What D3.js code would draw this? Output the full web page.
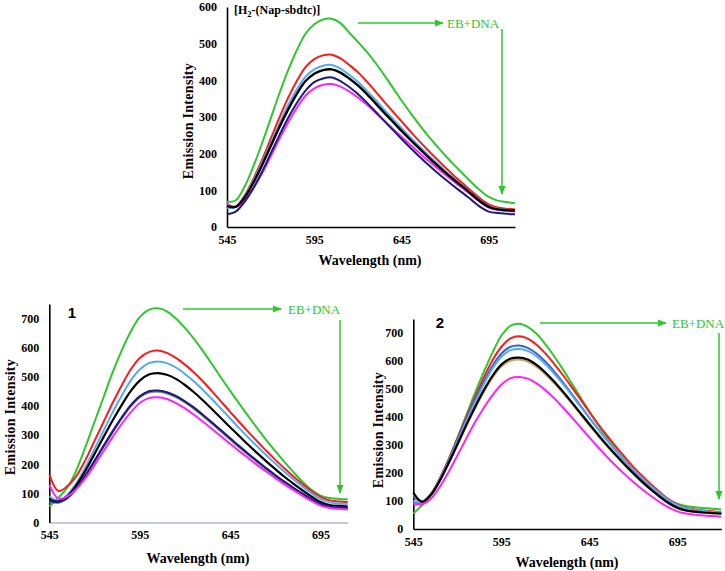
<!DOCTYPE html>
<html><head><meta charset="utf-8">
<script src="https://cdn.jsdelivr.net/npm/d3@7"></script>
<style>body{margin:0;background:#fff}svg{display:block}</style>
</head><body>
<svg id="c" width="725" height="571"></svg>
<script>
// ---------- data ----------
const wavelengthsA = [545,550,555,560,565,570,575,580,585,590,595,600,605,610,615,620,625,630,635,640,645,650,655,660,665,670,675,680,685,690,695,700,705,710];
const wavelengths1 = wavelengthsA;
const wavelengths2 = [545,550,555,560,565,570,575,580,585,590,595,600,605,610,615,620,625,630,635,640,645,650,655,660,665,670,675,680,685,690,695,700,705,710,715,720];
const xTicks = [545,595,645,695];
const yTicksA = [0,100,200,300,400,500,600];
const yTicksB = [0,100,200,300,400,500,600,700];

const topGreen   = [68,73,109,164,227,295,364,427,482,527,553,566,568,556,530,505,478,448,415,380,345,312,280,250,222,195,170,146,122,100,82,72,68,65];
const topRed     = [58,56,85,130,182,240,298,352,398,436,458,468,470,460,442,422,397,370,342,315,288,261,235,210,186,163,140,119,98,78,62,53,50,48];
const topLBlue   = [52,55,82,125,175,228,282,332,375,410,430,440,442,432,415,396,372,347,320,295,270,245,221,198,175,153,132,112,92,72,57,50,47,45];
const topBlack   = [57,55,80,120,168,220,272,320,363,398,418,428,430,421,405,386,363,338,312,287,262,238,215,192,170,149,129,110,90,70,55,48,46,45];
const topNavy    = [35,42,68,105,150,200,250,297,338,372,395,405,408,398,382,363,340,315,290,265,240,216,193,171,150,130,111,93,74,55,42,38,36,35];
const topMagenta = [63,55,72,105,145,192,240,285,325,358,378,388,390,383,370,353,334,312,290,268,246,224,203,182,162,143,124,106,87,68,53,47,44,42];

const p1Green   = [55,85,120,180,260,345,430,515,590,655,705,730,735,725,700,668,630,588,543,497,452,408,365,323,283,245,208,173,140,112,92,84,81,80];
const p1Red     = [165,108,125,160,215,280,345,410,470,525,565,585,590,582,565,542,515,484,450,415,380,345,311,278,246,215,186,158,132,108,88,76,72,70];
const p1LBlue   = [90,75,95,135,190,252,315,378,435,487,525,547,553,547,532,510,484,455,423,390,357,324,292,261,231,202,174,148,123,100,80,69,65,63];
const p1Black   = [80,72,90,128,178,235,293,350,403,451,487,508,513,507,493,472,447,419,389,358,327,297,267,238,210,183,157,133,110,89,70,60,57,55];
const p1Grey    = [72,68,83,115,158,208,259,309,356,398,429,446,449,443,430,412,390,365,339,312,285,258,232,207,182,159,137,116,96,77,60,52,49,47];
const p1Navy    = [75,70,85,118,162,212,263,313,360,402,433,450,453,447,434,416,394,369,343,316,289,262,236,211,186,162,140,119,99,80,63,55,52,50];
const p1Magenta = [130,82,90,115,152,197,245,293,338,378,410,427,430,424,410,392,370,346,321,295,270,245,221,197,174,152,131,111,92,74,58,50,47,45];

const p2Green   = [55,85,120,175,245,325,405,485,560,630,690,725,733,722,697,660,617,570,520,470,420,372,327,285,247,212,180,152,126,104,90,82,78,75,72,70];
const p2Red     = [90,95,125,180,248,322,398,470,540,603,650,680,688,680,658,627,590,550,507,463,418,375,334,295,258,222,190,160,132,107,88,75,70,66,63,60];
const p2Blue    = [115,98,125,178,245,317,390,460,525,583,626,650,655,647,627,598,563,524,483,441,398,357,318,280,244,210,179,150,124,100,82,70,65,62,59,57];
const p2LBlue   = [100,95,122,175,240,311,383,452,516,573,615,638,643,636,617,589,555,518,478,437,396,356,318,281,246,213,182,153,127,103,85,73,68,64,61,58];
const p2Tan     = [125,95,120,170,232,298,365,429,488,540,580,600,605,598,580,553,521,486,448,409,370,332,296,261,228,196,166,139,114,92,75,65,61,58,56,54];
const p2Black   = [130,97,122,172,235,302,370,435,495,547,587,608,612,605,586,559,527,491,453,414,375,337,300,265,231,199,169,141,116,93,76,66,62,59,57,55];
const p2Magenta = [90,88,108,150,203,262,322,380,432,478,515,538,543,537,520,496,467,434,399,363,327,292,258,226,196,168,142,118,96,77,63,55,51,48,46,44];

// ---------- drawing ----------
const C = {green:"#2ec82e", red:"#ff1a1a", lblue:"#55aaee", black:"#000000", navy:"#1c1c7a", grey:"#8a8a8a", magenta:"#ff22ff", blue:"#3a62cc", tan:"#c9a36a"};
const svg = d3.select("#c");
const defs = svg.append("defs");
defs.append("marker").attr("id","ah").attr("viewBox","0 0 10 10").attr("refX",9).attr("refY",5)
  .attr("markerWidth",6).attr("markerHeight",6).attr("orient","auto")
  .append("path").attr("d","M0,1 L10,5 L0,9 Z").attr("fill",C.green);

const SERIF = "'Liberation Serif','Times New Roman',serif";
const SANS = "'Liberation Sans',Arial,sans-serif";

function panel(cfg){
  const x = d3.scaleLinear().domain(cfg.xDomain).range(cfg.xRange);
  const y = d3.scaleLinear().domain(cfg.yDomain).range(cfg.yRange);
  const g = svg.append("g");
  const xa = d3.axisBottom(x).tickValues(xTicks).tickSize(0).tickPadding(8).tickFormat(d3.format("d"));
  const ya = d3.axisLeft(y).tickValues(cfg.yTicks).tickSize(0).tickPadding(10).tickFormat(d3.format("d"));
  const gx = g.append("g").attr("transform",`translate(0,${cfg.yRange[0]})`).call(xa);
  gx.select(".domain").attr("stroke",cfg.xAxisColor).attr("stroke-width",1.6);
  const gy = g.append("g").attr("transform",`translate(${cfg.xRange[0]},0)`).call(ya);
  gy.select(".domain").attr("stroke","#000").attr("stroke-width",1.6);
  g.selectAll(".tick text").attr("font-family",SERIF).attr("font-weight","bold").attr("font-size",12).attr("fill","#000");
  const line = d3.line().x(d=>x(d[0])).y(d=>y(d[1])).curve(d3.curveCatmullRom.alpha(0.5));
  cfg.series.forEach(s=>{
    g.append("path").datum(cfg.wl.map((w,i)=>[w,s.v[i]]))
      .attr("fill","none").attr("stroke",s.c).attr("stroke-width",s.w||2).attr("stroke-linejoin","round").attr("d",line);
  });
  g.append("text").attr("x",cfg.xTitle[0]).attr("y",cfg.xTitle[1]).attr("text-anchor","middle")
    .attr("font-family",SERIF).attr("font-weight","bold").attr("font-size",14).text("Wavelength (nm)");
  g.append("text").attr("transform",`translate(${cfg.yTitle[0]},${cfg.yTitle[1]}) rotate(-90)`).attr("text-anchor","middle")
    .attr("dominant-baseline","central").attr("font-family",SERIF).attr("font-weight","bold").attr("font-size",14)
    .attr("letter-spacing",0.3).text("Emission Intensity");
  const a = cfg.arrow;
  g.append("line").attr("x1",a.h[0]).attr("y1",a.h[2]).attr("x2",a.h[1]).attr("y2",a.h[2])
    .attr("stroke",C.green).attr("stroke-width",1.5).attr("marker-end","url(#ah)");
  g.append("text").attr("x",a.t[0]).attr("y",a.t[1]).attr("font-family",SERIF).attr("font-size",13).attr("fill",C.green).text("EB+DNA");
  g.append("line").attr("x1",a.v[0]).attr("y1",a.v[1]).attr("x2",a.v[0]).attr("y2",a.v[2])
    .attr("stroke",C.green).attr("stroke-width",1.5).attr("marker-end","url(#ah)");
  return g;
}

const gA = panel({
  wl: wavelengthsA, xDomain:[545,710], xRange:[227,515], yDomain:[0,600], yRange:[227,7], yTicks:yTicksA,
  xAxisColor:"#000", xTitle:[370,265], yTitle:[188,121],
  arrow:{h:[358,443,23], t:[447,28], v:[502,29,194]},
  series:[
    {v:topGreen,c:C.green},{v:topRed,c:C.red},{v:topLBlue,c:C.lblue},
    {v:topMagenta,c:C.magenta},{v:topNavy,c:C.navy,w:2},{v:topBlack,c:C.black,w:2.4}
  ]
});
gA.append("text").attr("x",234).attr("y",14).attr("font-family",SERIF).attr("font-weight","bold").attr("font-size",12)
  .call(t=>{ t.append("tspan").text("[H"); t.append("tspan").attr("font-size",8.5).attr("dy",3).text("2");
             t.append("tspan").attr("dy",-3).text("-(Nap-sbdtc)]"); });

const g1 = panel({
  wl: wavelengths1, xDomain:[545,710], xRange:[49.3,347.7], yDomain:[0,750], yRange:[522.5,304], yTicks:yTicksB,
  xAxisColor:"#b0b4d8", xTitle:[198,563], yTitle:[10,417],
  arrow:{h:[183,281,309], t:[288,314], v:[340,320,493]},
  series:[
    {v:p1Green,c:C.green},{v:p1Red,c:C.red},{v:p1LBlue,c:C.lblue},{v:p1Black,c:C.black,w:2.2},
    {v:p1Grey,c:C.grey},{v:p1Navy,c:C.navy,w:2.2},{v:p1Magenta,c:C.magenta}
  ]
});
g1.append("text").attr("x",72).attr("y",318).attr("text-anchor","middle").attr("font-family",SANS).attr("font-weight","bold").attr("font-size",15).text("1");

const g2 = panel({
  wl: wavelengths2, xDomain:[545,720], xRange:[413.3,721.3], yDomain:[0,750], yRange:[529,319], yTicks:yTicksB,
  xAxisColor:"#000", xTitle:[567,567], yTitle:[378,430],
  arrow:{h:[540,666,323], t:[672,328], v:[719,333,499]},
  series:[
    {v:p2Green,c:C.green},{v:p2Red,c:C.red},{v:p2Blue,c:C.blue},{v:p2LBlue,c:C.lblue},
    {v:p2Tan,c:C.tan},{v:p2Black,c:C.black,w:2.2},{v:p2Magenta,c:C.magenta}
  ]
});
g2.append("text").attr("x",440).attr("y",328).attr("text-anchor","middle").attr("font-family",SANS).attr("font-weight","bold").attr("font-size",15).text("2");
</script>
</body></html>
